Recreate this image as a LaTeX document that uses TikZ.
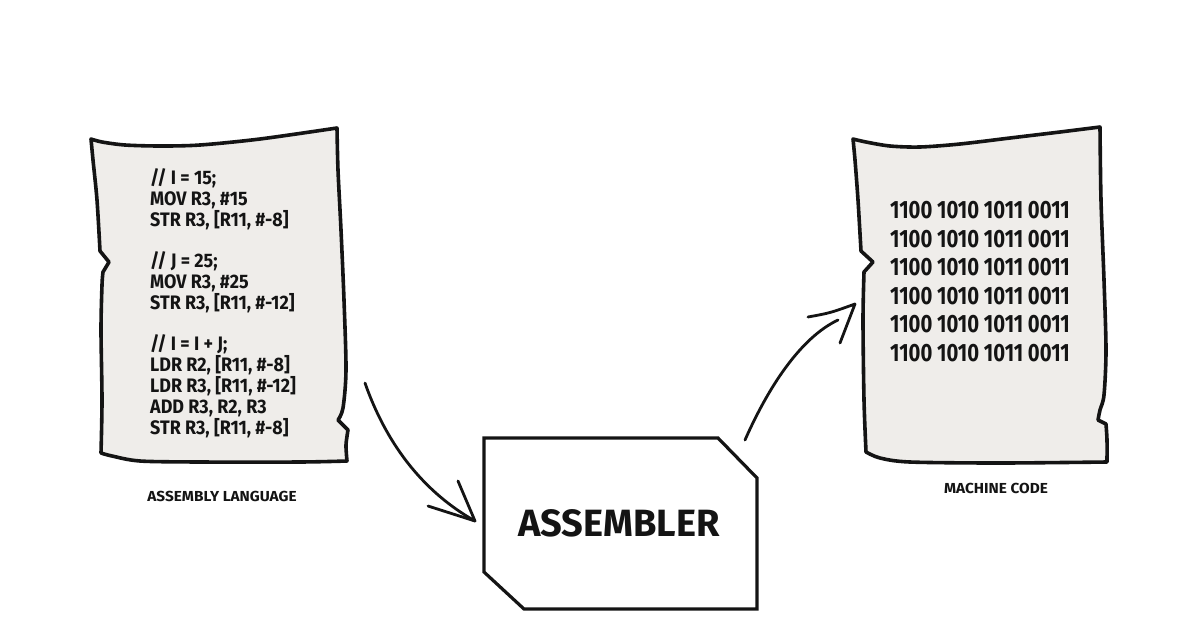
\documentclass[tikz,border=0pt]{standalone}
\usepackage{fontspec}
\setmainfont{Fira Sans}
\newfontfamily\codefont[FakeStretch=0.92]{Fira Sans}
\newfontfamily\binfont[FakeStretch=0.81]{Fira Sans}
\newfontfamily\labfont[FakeStretch=1.06]{Fira Sans}
\definecolor{paper}{HTML}{EFEDEA}
\definecolor{ink}{HTML}{141414}
\tikzset{
  paperline/.style={draw=ink, fill=paper, line width=3.6pt, line join=round},
  boxline/.style={draw=ink, fill=white, line width=3.2pt, line join=miter},
  arrowline/.style={draw=ink, line width=2.8pt, line cap=round, line join=round},
  codeline/.style={anchor=base west, inner sep=0pt, font=\codefont\bfseries\fontsize{19.5}{21}\selectfont, text=ink},
  binline/.style={anchor=base west, inner sep=0pt, font=\binfont\bfseries\fontsize{25}{27}\selectfont, text=ink},
  caption/.style={inner sep=0pt, font=\labfont\bfseries\fontsize{14.5}{16}\selectfont, text=ink},
}
\begin{document}
\begin{tikzpicture}[x=1pt,y=-1pt]
\useasboundingbox (0,0) rectangle (1200,630);
\fill[white] (0,0) rectangle (1200,630);

% left paper
\path[paperline]
  plot[smooth,tension=0.5] coordinates {(91,139) (102,142) (125,145) (160,146) (200,145) (260,139) (337,128)}
  -- plot[smooth,tension=0.5] coordinates {(337,128) (338,170) (341,230) (344,300) (346,370) (343,408) (338,420)}
  -- (348,430)
  -- plot[smooth,tension=0.5] coordinates {(348,430) (346,445) (347,461)}
  -- plot[smooth,tension=0.5] coordinates {(347,461) (300,462) (200,462) (140,461) (112,456) (101,453)}
  -- plot[smooth,tension=0.5] coordinates {(101,453) (102,400) (101,330) (102,285) (103,272)}
  -- (109,262) -- (100,251)
  -- plot[smooth,tension=0.5] coordinates {(100,251) (97,200) (93,160) (91,139)}
  -- cycle;

% right paper
\path[paperline]
  plot[smooth,tension=0.5] coordinates {(853,139) (866,142) (890,146) (920,147) (960,144) (1010,138) (1060,132) (1100,127)}
  -- plot[smooth,tension=0.5] coordinates {(1100,127) (1101,200) (1104,280) (1106,350) (1104,395) (1100,410) (1098,420)}
  -- (1106,424)
  -- plot[smooth,tension=0.5] coordinates {(1106,424) (1107,440) (1107,462)}
  -- plot[smooth,tension=0.5] coordinates {(1107,462) (1000,463) (910,462) (880,458) (866,452)}
  -- plot[smooth,tension=0.5] coordinates {(866,452) (864,400) (863,320) (864,272)}
  -- (873,262) -- (861,251)
  -- plot[smooth,tension=0.5] coordinates {(861,251) (858,200) (855,160) (853,139)}
  -- cycle;

% assembly code
\foreach \txt [count=\k from 0] in {
  {// I = 15;}, {MOV R3, \#15}, {STR R3, [R11, \#-8]}, {}, 
  {// J = 25;}, {MOV R3, \#25}, {STR R3, [R11, \#-12]}, {},
  {// I = I + J;}, {LDR R2, [R11, \#-8]}, {LDR R3, [R11, \#-12]}, {ADD R3, R2, R3}, {STR R3, [R11, \#-8]}}
  \node[codeline] (code\k) at (150, 184.5+20.8*\k) {\txt};

% machine code
\foreach \k in {0,...,5}
  \node[binline] (bin\k) at (890, 218.5+28.5*\k) {1100 1010 1011 0011};

% captions
\node[caption] (capL) at (222,496) {ASSEMBLY LANGUAGE};
\node[caption] (capR) at (996,488) {MACHINE CODE};

% assembler box
\path[boxline] (484,438) -- (718,438) -- (757,478) -- (757,609) -- (524,609) -- (484,572) -- cycle;
\node[inner sep=0pt, font=\fontsize{38}{40}\selectfont\bfseries, text=ink] (asm) at (619,523) {ASSEMBLER};

% arrows
\coordinate (a1s) at (365,383);
\coordinate (a1t) at (475,521);
\coordinate (a1h1) at (458,481);
\coordinate (a1h2) at (428,506);
\draw[arrowline] (a1s) .. controls (385,440) and (420,490) .. (a1t);
\draw[arrowline] (a1h1) -- (a1t) -- (a1h2);

\coordinate (a2s) at (745,440);
\coordinate (a2t) at (855,304);
\coordinate (a2h1) at (808,317);
\coordinate (a2h2) at (840,343);
\draw[arrowline] (a2s) .. controls (768,388) and (800,338) .. (838,320);
\draw[arrowline] (a2h1) .. controls (830,313) .. (a2t) -- (a2h2);
\end{tikzpicture}
\end{document}
